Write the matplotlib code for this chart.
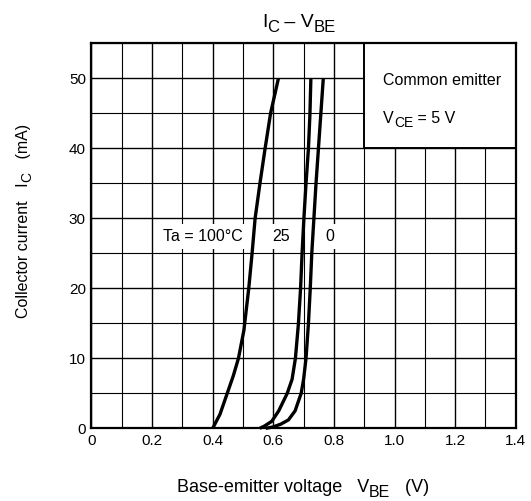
import numpy as np
import matplotlib
matplotlib.use('Agg')
import matplotlib.pyplot as plt
from matplotlib.patches import Rectangle

plt.rcParams['font.family'] = 'Liberation Sans'

# Ta = 100 C
v100 = [0.400, 0.412, 0.424, 0.448, 0.468, 0.485, 0.503, 0.519, 0.530, 0.540, 0.556, 0.573, 0.591, 0.617]
i100 = [0, 1, 2, 5, 7.5, 10, 14, 20, 25, 30, 35, 40, 45, 50]
# Ta = 25 C
v25 = [0.555, 0.570, 0.595, 0.618, 0.646, 0.662, 0.673, 0.683, 0.690, 0.695, 0.701, 0.708, 0.716, 0.721, 0.724]
i25 = [0, 0.3, 1, 2.5, 5, 7, 10, 15, 20, 25, 30, 35, 40, 45, 50]
# Ta = 0 C
v0 = [0.575, 0.600, 0.625, 0.650, 0.672, 0.692, 0.700, 0.708, 0.716, 0.722, 0.727, 0.734, 0.741, 0.749, 0.757, 0.765]
i0 = [0, 0.2, 0.6, 1.2, 2.5, 5, 7, 10, 15, 20, 25, 30, 35, 40, 45, 50]

xticks = [0, 0.2, 0.4, 0.6, 0.8, 1.0, 1.2, 1.4]
xticklabels = ['0', '0.2', '0.4', '0.6', '0.8', '1.0', '1.2', '1.4']
yticks = [0, 10, 20, 30, 40, 50]

fig = plt.figure(figsize=(5.31, 5.01), dpi=100)
ax = fig.add_axes([0.1723, 0.1451, 0.7989, 0.7685])


def rich(x, y, parts, transform, rotation=0, ha='left', va='baseline'):
    # parts: (text, fontsize, shift in points relative to previous piece)
    s, size, _ = parts[0]
    first = ax.text(x, y, s, fontsize=size, rotation=rotation, ha=ha, va=va,
                    transform=transform, zorder=3)
    items = [first]
    prev = first
    for s, size, dy in parts[1:]:
        if rotation == 90:
            t = ax.annotate(s, xy=(1, 1), xycoords=prev, xytext=(-dy, 0),
                            textcoords='offset points', fontsize=size, rotation=90,
                            ha='right', va='bottom', zorder=3)
        else:
            t = ax.annotate(s, xy=(1, 0), xycoords=prev, xytext=(0, dy),
                            textcoords='offset points', fontsize=size,
                            ha='left', va='bottom', zorder=3)
        items.append(t)
        prev = t
    return items


def center_fig(items, cx=None, cy=None):
    fig.canvas.draw()
    r = fig.canvas.get_renderer()
    bbs = [t.get_window_extent(r) for t in items]
    x0 = min(b.x0 for b in bbs); x1 = max(b.x1 for b in bbs)
    y0 = min(b.y0 for b in bbs); y1 = max(b.y1 for b in bbs)
    W, H = fig.bbox.width, fig.bbox.height
    px, py = items[0].get_position()
    if cx is not None:
        px += cx - (x0 + x1) / 2 / W
    if cy is not None:
        py += cy - (y0 + y1) / 2 / H
    items[0].set_position((px, py))


ax.set_xlim(0, 1.4)
ax.set_ylim(0, 55)
ax.set_xticks(xticks)
ax.set_xticklabels(xticklabels)
ax.set_yticks(yticks)
ax.set_xticks(np.arange(0, 1.41, 0.1), minor=True)
ax.set_yticks(np.arange(0, 56, 5), minor=True)
ax.tick_params(which='both', length=0, labelsize=11, pad=4)
ax.grid(which='major', color='black', lw=1.0)
ax.grid(which='minor', color='black', lw=0.8)
ax.set_axisbelow(True)
for s in ax.spines.values():
    s.set_linewidth(1.6)

# condition box
ax.add_patch(Rectangle((0.9, 40), 0.5, 15, facecolor='white', edgecolor='black',
                       lw=1.4, zorder=2))
ax.text(0.963, 49.1, 'Common emitter', fontsize=11.5, va='baseline', zorder=3)
rich(0.963, 43.6, [('V', 11.5, 0), ('CE', 10, -2.5), (' = 5 V', 11.5, 2.5)], ax.transData)

box = dict(facecolor='white', edgecolor='none', pad=3.5)
ax.text(0.367, 27.4, 'Ta = 100°C', fontsize=11.5, ha='center', va='center', bbox=box, zorder=2)
ax.text(0.627, 27.4, '25', fontsize=11.5, ha='center', va='center', bbox=box, zorder=2)
ax.text(0.787, 27.4, '0', fontsize=11.5, ha='center', va='center', bbox=box, zorder=2)

for v, i in [(v100, i100), (v25, i25), (v0, i0)]:
    ax.plot(v, i, color='black', lw=2.4, solid_joinstyle='round', solid_capstyle='butt',
            zorder=4, clip_on=False)

title = rich(0.5, 0.946, [('I', 14, 0), ('C', 12, -3), (' – V', 14, 3), ('BE', 12, -3)],
             fig.transFigure)
xlab = rich(0.5, 0.018, [('Base-emitter voltage   V', 13, 0), ('BE', 11.5, -3),
                         ('   (V)', 13, 3)], fig.transFigure)
ylab = rich(0.058, 0.3, [('Collector current   I', 11.5, 0), ('C', 10, -2.5),
                         ('   (mA)', 11.5, 2.5)], fig.transFigure,
            rotation=90, ha='right', va='bottom')
center_fig(title, cx=0.563)
center_fig(xlab, cx=0.571)
center_fig(ylab, cy=0.559)

fig.savefig('out.png', dpi=100)
